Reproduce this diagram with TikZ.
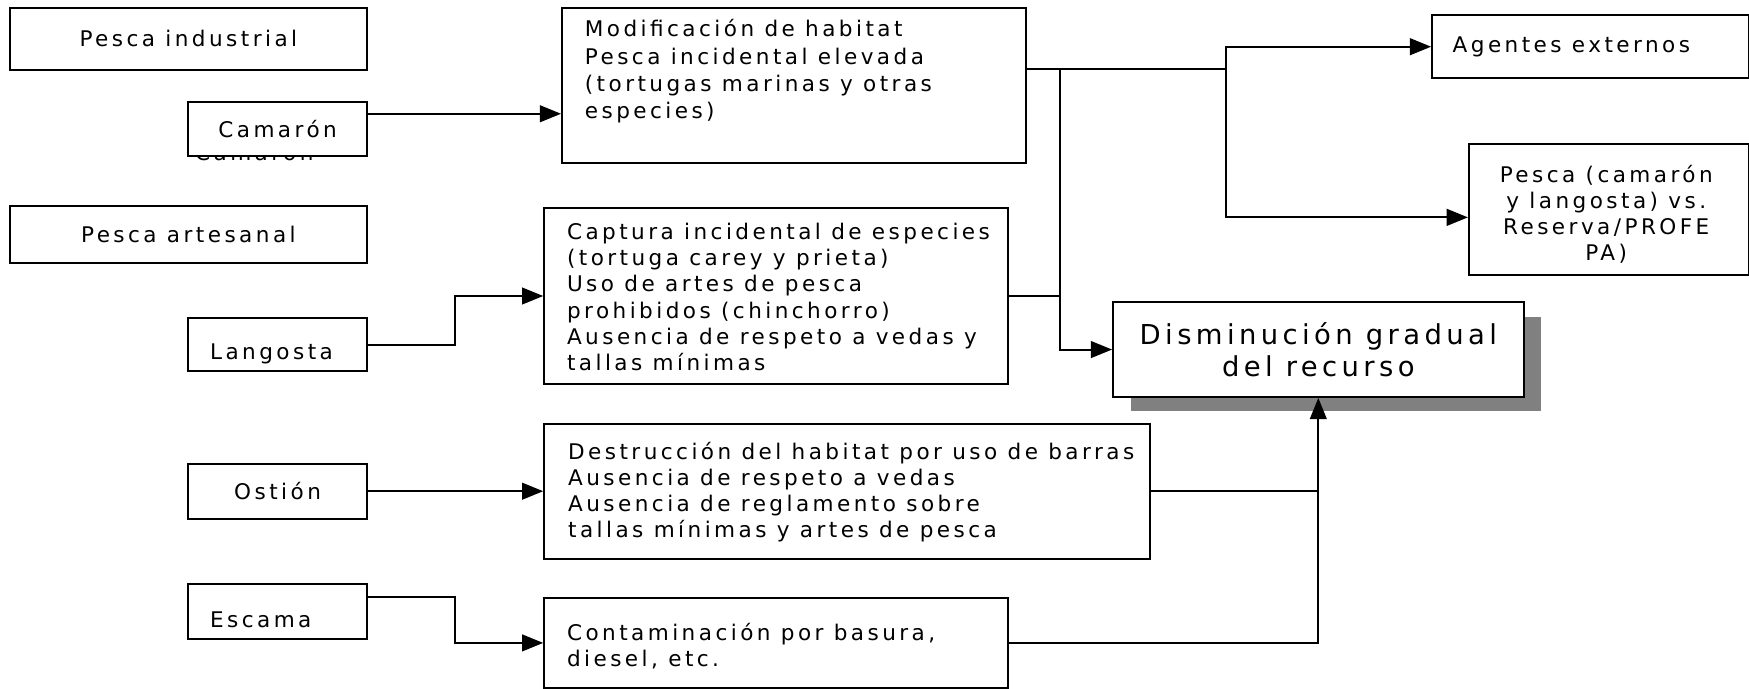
\documentclass[tikz,border=0pt]{standalone}
\usepackage{fontspec}
\setmainfont[LetterSpace=16]{DejaVu Sans}
\usetikzlibrary{arrows.meta,positioning,shadows}
\tikzset{%
  box/.style={draw, line width=1pt, fill=white, inner sep=0pt, anchor=north west,
    font=\fontsize{11}{13.3}\selectfont},
  size/.style 2 args={minimum width=#1*0.02cm, minimum height=#2*0.02cm},
  txt/.style={inner sep=0pt, align=left, font=\fontsize{11}{13.3}\selectfont},
  shade box/.style={drop shadow={shadow xshift=16*0.02cm, shadow yshift=-13*0.02cm,
    fill=black!50, opacity=1}},
  link/.style={line width=1pt},
  arrow/.style={link, -{Triangle[length=0.38cm, width=0.3cm]}},
}

\begin{document}
\begin{tikzpicture}[x=0.02cm, y=-0.02cm]
\useasboundingbox (0,0) rectangle (1568,617);

% left column
\node [box, size={320}{56}] (industrial) at (8,6) {Pesca industrial};

\node [txt] (camaron-ghost) at (228,136) {Camarón};
\node [box, size={160}{48}] (camaron) at (168,91) {Camarón};

\node [box, size={320}{51}] (artesanal) at (8,184) {Pesca artesanal};

\node [box, size={160}{48}] (langosta) at (168,284) {};
\node [txt, anchor=west] (langosta-txt) at (188,317) {Langosta};

\node [box, size={160}{49}] (ostion) at (168,415) {Ostión};

\node [box, size={160}{49}] (escama) at (168,523) {};
\node [txt, anchor=west] (escama-txt) at (188,556) {Escama};

% middle column
\node [box, size={416}{139}] (modif) at (503,6) {};
\node [txt, anchor=north west, font=\fontsize{11}{14}\selectfont] (modif-txt) at (524,17)
  {Modificación de habitat\\Pesca incidental elevada\\(tortugas marinas y otras\\especies)};

\node [box, size={416}{157}] (captura) at (487,186) {};
\node [txt, anchor=north west] (captura-txt) at (508,200)
  {Captura incidental de especies\\(tortuga carey y prieta)\\Uso de artes de pesca\\prohibidos (chinchorro)\\Ausencia de respeto a vedas y\\tallas mínimas};

\node [box, size={543}{121}] (destruc) at (487,379) {};
\node [txt, anchor=north west] (destruc-txt) at (509,396)
  {Destrucción del habitat por uso de barras\\Ausencia de respeto a vedas\\Ausencia de reglamento sobre\\tallas mínimas y artes de pesca};

\node [box, size={416}{81}] (contam) at (487,535) {};
\node [txt, anchor=north west] (contam-txt) at (508,558)
  {Contaminación por basura,\\diesel, etc.};

% right column
\node [box, size={284}{56}] (agentes) at (1283,13) {};
\node [txt, anchor=west] (agentes-txt) at (1302,42) {Agentes externos};

\node [box, size={251}{118}] (reserva) at (1316,128) {};
\node [txt, align=center] (reserva-txt) at (1440,192)
  {Pesca (camarón\\y langosta) vs.\\Reserva/PROFE\\PA)};

\node [box, shade box, size={368}{85}, align=center,
  font=\fontsize{14}{16.5}\selectfont] (dismin) at (997,270)
  {Disminución gradual\\del recurso};

% helper points
\coordinate (k-left) at (408,0);
\coordinate (k-top) at (0,62);
\coordinate (k-mid) at (950,0);
\coordinate (k-right) at (1099,0);
\coordinate (k-esc) at (0,535);

% connections
\draw [arrow] (camaron.north east |- 0,102) -- (modif.west |- 0,102);
\draw [arrow] (langosta.east) -| (captura.west -| k-left) -- (captura.west);
\draw [arrow] (ostion.east) -- (destruc.west);
\draw [arrow] (escama.east |- k-esc) -| (contam.west -| k-left) -- (contam.west);

\draw [link] (modif.east |- k-top) -- (k-right |- k-top);
\draw [arrow] (k-right |- k-top) |- (agentes.west);
\draw [arrow] (k-right |- k-top) |- ([yshift=-7*0.02cm]reserva.west);
\draw [arrow] (k-mid |- k-top) |- (dismin.west);
\draw [link] (captura.east) -- (k-mid |- captura.east);

\draw [arrow] (destruc.east) -| (dismin.south);
\draw [link] (contam.east) -| (dismin.south |- destruc.east);

\end{tikzpicture}
\end{document}
